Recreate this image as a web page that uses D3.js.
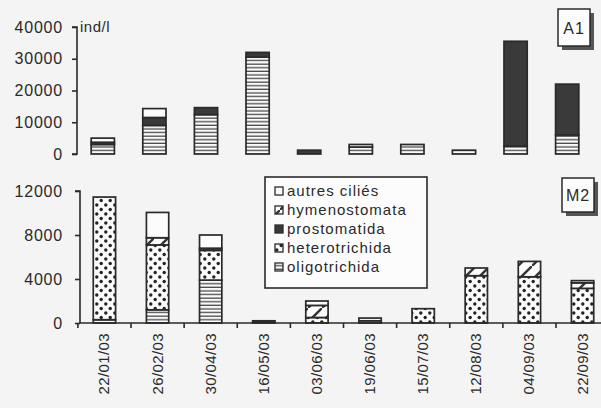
<!DOCTYPE html>
<html><head><meta charset="utf-8">
<script src="https://cdn.jsdelivr.net/npm/d3@7/dist/d3.min.js"></script>
<style>
html,body{margin:0;padding:0;background:#f4f4f4;}
svg{display:block;font-family:"Liberation Sans",Arial,sans-serif;}
</style></head>
<body><svg id="c" width="601" height="408"></svg>
<script>
const dates = ["22/01/03","26/02/03","30/04/03","16/05/03","03/06/03","19/06/03","15/07/03","12/08/03","04/09/03","22/09/03"];
const seriesKeys = ["oligotrichida","heterotrichida","prostomatida","hymenostomata","autres ciliés"];
const legendOrder = ["autres ciliés","hymenostomata","prostomatida","heterotrichida","oligotrichida"];

// Panel A1 (ind/l)
const a1_oligotrichida  = [3000, 9000, 12400, 30500, 0, 2200, 3000, 1200, 2500, 6000];
const a1_heterotrichida = [0, 0, 0, 0, 0, 0, 0, 0, 0, 0];
const a1_prostomatida   = [700, 2500, 2200, 1500, 1200, 0, 0, 0, 33000, 16000];
const a1_hymenostomata  = [0, 0, 0, 0, 0, 0, 0, 0, 0, 0];
const a1_autres         = [1300, 2800, 0, 0, 0, 800, 0, 0, 0, 0];
const a1_ticks = [0, 10000, 20000, 30000, 40000];

// Panel M2
const m2_oligotrichida  = [300, 1200, 3900, 100, 0, 200, 0, 0, 0, 0];
const m2_heterotrichida = [11150, 5900, 2700, 0, 500, 0, 1300, 4300, 4200, 3150];
const m2_prostomatida   = [0, 0, 200, 100, 0, 0, 0, 0, 0, 0];
const m2_hymenostomata  = [0, 650, 0, 0, 1100, 0, 0, 700, 1400, 500];
const m2_autres         = [0, 2300, 1200, 0, 400, 250, 0, 0, 0, 200];
const m2_ticks = [0, 4000, 8000, 12000];

const svg = d3.select("#c");
const ink = "#2a2a2a";

// patterns
const defs = svg.append("defs");
const pO = defs.append("pattern").attr("id","p-oligo").attr("patternUnits","userSpaceOnUse").attr("width",6).attr("height",3.6);
pO.append("rect").attr("width",6).attr("height",3.6).attr("fill","#fbfbfb");
pO.append("rect").attr("y",2.3).attr("width",6).attr("height",1.3).attr("fill","#4a4a4a");
const pH = defs.append("pattern").attr("id","p-hetero").attr("patternUnits","userSpaceOnUse").attr("width",9).attr("height",9);
pH.append("rect").attr("width",9).attr("height",9).attr("fill","#fbfbfb");
pH.append("circle").attr("cx",2.2).attr("cy",2.5).attr("r",1.7).attr("fill","#222");
pH.append("circle").attr("cx",6.8).attr("cy",7.0).attr("r",1.7).attr("fill","#222");
const pY = defs.append("pattern").attr("id","p-hymeno").attr("patternUnits","userSpaceOnUse").attr("width",14).attr("height",14);
pY.append("rect").attr("width",14).attr("height",14).attr("fill","#fbfbfb");
pY.append("path").attr("d","M-2,16 L16,-2").attr("stroke","#333").attr("stroke-width",2.4);
const fills = {
  "oligotrichida":"url(#p-oligo)",
  "heterotrichida":"url(#p-hetero)",
  "prostomatida":"#3a3a3a",
  "hymenostomata":"url(#p-hymeno)",
  "autres ciliés":"#fcfcfc"
};

function rows(o,h,p,y,a){
  return dates.map((d,i)=>({date:d,"oligotrichida":o[i],"heterotrichida":h[i],"prostomatida":p[i],"hymenostomata":y[i],"autres ciliés":a[i]}));
}
const stack = d3.stack().keys(seriesKeys);

function drawBars(g, data, x, y){
  const st = stack(data);
  st.forEach(layer=>{
    g.selectAll(null).data(layer.filter(d=>d[1]-d[0]>0)).enter().append("rect")
      .attr("x",d=>x(d.data.date)).attr("width",x.bandwidth())
      .attr("y",d=>y(d[1])).attr("height",d=>y(d[0])-y(d[1]))
      .attr("fill",fills[layer.key]).attr("stroke",ink).attr("stroke-width",1.7);
  });
}

// ---- Panel A1 ----
const xA = d3.scaleBand().domain(dates).range([77,593]).paddingInner(0.55).paddingOuter(0.275);
const yA = d3.scaleLinear().domain([0,40000]).range([154,27]);
const gA = svg.append("g");
drawBars(gA, rows(a1_oligotrichida,a1_heterotrichida,a1_prostomatida,a1_hymenostomata,a1_autres), xA, yA);
const axA = svg.append("g").attr("transform","translate(77,0)")
  .call(d3.axisLeft(yA).tickValues(a1_ticks).tickSize(5).tickPadding(9).tickFormat(d3.format("d")));
axA.select(".domain").attr("d","M-5,"+yA(40000)+"H0V"+yA(0)+"H-5").attr("stroke",ink).attr("stroke-width",1.6).attr("fill","none");
axA.selectAll(".tick line").attr("stroke",ink).attr("stroke-width",1.6);
axA.selectAll("text").attr("font-size",16).attr("fill",ink).attr("letter-spacing","0.8px").attr("font-family","Liberation Sans, Arial, sans-serif");
svg.append("text").attr("x",80).attr("y",32).attr("font-size",15).attr("fill",ink).attr("letter-spacing","0.5px").text("ind/l");

// ---- Panel M2 ----
const xM = d3.scaleBand().domain(dates).range([80,607]).paddingInner(0.58).paddingOuter(0.25);
const yM = d3.scaleLinear().domain([0,12000]).range([323,191]);
const gM = svg.append("g");
drawBars(gM, rows(m2_oligotrichida,m2_heterotrichida,m2_prostomatida,m2_hymenostomata,m2_autres), xM, yM);
const axM = svg.append("g").attr("transform","translate(80,0)")
  .call(d3.axisLeft(yM).tickValues(m2_ticks).tickSize(5).tickPadding(12).tickFormat(d3.format("d")));
axM.select(".domain").attr("d","M-5,"+yM(12000)+"H0V"+yM(0)).attr("stroke",ink).attr("stroke-width",1.6).attr("fill","none");
axM.selectAll(".tick line").attr("stroke",ink).attr("stroke-width",1.6);
axM.selectAll("text").attr("font-size",16).attr("fill",ink).attr("letter-spacing","0.8px").attr("font-family","Liberation Sans, Arial, sans-serif");

// x axis M2
const step = xM.step();
const gX = svg.append("g");
gX.append("line").attr("x1",80).attr("x2",601).attr("y1",yM(0)).attr("y2",yM(0)).attr("stroke",ink).attr("stroke-width",1.6);
gX.selectAll(".xt").data(dates).enter().append("line")
  .attr("x1",d=>xM(d)-(step-xM.bandwidth())/2).attr("x2",d=>xM(d)-(step-xM.bandwidth())/2)
  .attr("y1",yM(0)).attr("y2",yM(0)+5).attr("stroke",ink).attr("stroke-width",1.6);
gX.selectAll(".xl").data(dates).enter().append("text")
  .attr("transform",d=>"translate("+(xM(d)+xM.bandwidth()/2+5)+","+(yM(0)+10)+") rotate(-90)")
  .attr("text-anchor","end").attr("font-size",15).attr("fill",ink).attr("letter-spacing","0.4px")
  .text(d=>d);

// legend
const lg = svg.append("g");
lg.append("rect").attr("x",265).attr("y",177).attr("width",162).attr("height",111).attr("fill","#fcfcfc").attr("stroke",ink).attr("stroke-width",1.6);
legendOrder.forEach((k,i)=>{
  const cy = 191 + i*19;
  lg.append("rect").attr("x",275).attr("y",cy-4).attr("width",8).attr("height",8)
    .attr("fill",fills[k]).attr("stroke",ink).attr("stroke-width",1.3);
  lg.append("text").attr("x",287).attr("y",cy+5).attr("font-size",15).attr("letter-spacing","1px").attr("fill",ink).text(k);
});

// panel labels
function tag(x,y,w,h,t){
  svg.append("rect").attr("x",x+4).attr("y",y+4).attr("width",w).attr("height",h).attr("fill","#555");
  svg.append("rect").attr("x",x).attr("y",y).attr("width",w).attr("height",h).attr("fill","#fcfcfc").attr("stroke",ink).attr("stroke-width",1.5);
  svg.append("text").attr("x",x+w/2).attr("y",y+h/2+6).attr("text-anchor","middle").attr("font-size",16).attr("letter-spacing","1px").attr("fill",ink).text(t);
}
tag(558,9,32,37,"A1");
tag(562,178,32,34,"M2");
</script></body></html>
